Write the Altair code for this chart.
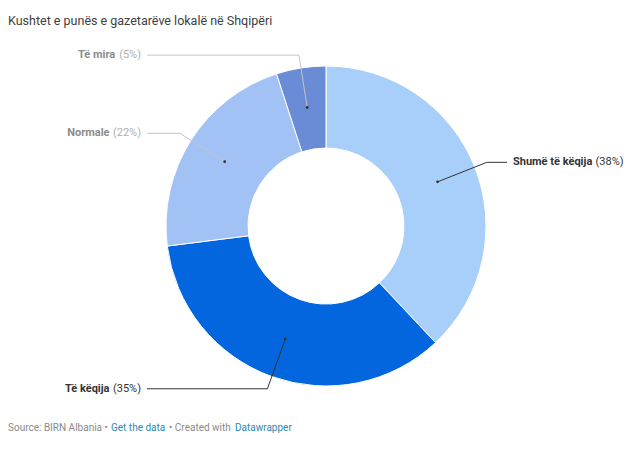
import math
import altair as alt
import pandas as pd

# ---- data ----
categories = ["Shumë të këqija", "Të këqija", "Normale", "Të mira"]
values = [38, 35, 22, 5]
colors = ["#a8cffa", "#0466df", "#a2c2f6", "#6a8bd5"]
emphasis = [True, True, False, False]

title_text = "Kushtet e punës e gazetarëve lokalë në Shqipëri"
footer_parts = ["Source: BIRN Albania •", "Get the data", "• Created with", "Datawrapper"]
footer_colors = ["#8a8a8a", "#2b8ab3", "#8a8a8a", "#2b8ab3"]

# ---- layout (page pixel space) ----
W, H = 624, 446
CX, CY = 326, 226          # donut centre in page coords
R_OUT, R_IN = 160, 78
R_DOT, R_ELBOW = 120, 173
FS_LABEL = 11

xs = alt.Scale(domain=[8, 8 + W], range=[0, W])
ys = alt.Scale(domain=[8, 8 + H], range=[0, H])

total = sum(values)
slices = pd.DataFrame({"cat": categories, "value": values, "idx": range(len(values))})

line_rows, dot_rows, name_rows, pct_rows = [], [], [], []
cum = 0
for i, (c, v, emph) in enumerate(zip(categories, values, emphasis)):
    mid = (cum + v / 2) / total * 2 * math.pi
    cum += v
    s, co = math.sin(mid), math.cos(mid)
    dx, dy = CX + R_DOT * s, CY - R_DOT * co
    ex, ey = CX + R_ELBOW * s, CY - R_ELBOW * co
    right = s > 0
    xend = CX + 181 if right else CX - 179
    lc = "#333333" if emph else "#c4c4c4"
    tc = "#333333" if emph else "#8c8c8c"
    pc = "#333333" if emph else "#b0b0b0"
    for k, (px, py) in enumerate([(dx, dy), (ex, ey), (xend, ey)]):
        line_rows.append({"cat": c, "k": k, "x": px, "y": py, "lc": lc})
    dot_rows.append({"x": dx, "y": dy})
    pct = f"({v}%)"
    if right:
        tx = xend + 6
        name_rows.append({"x": tx, "y": ey, "t": c, "col": tc, "align": "left"})
        pct_rows.append({"x": tx + len(c) * 5.3 + 3, "y": ey, "t": pct, "col": pc, "align": "left"})
    else:
        tx = xend - 6
        pct_rows.append({"x": tx, "y": ey, "t": pct, "col": pc, "align": "right"})
        name_rows.append({"x": tx - len(pct) * 5.7 - 3, "y": ey, "t": c, "col": tc, "align": "right"})

lines = pd.DataFrame(line_rows)
dots = pd.DataFrame(dot_rows)
names = pd.DataFrame(name_rows)
pcts = pd.DataFrame(pct_rows)

arc = alt.Chart(slices).mark_arc(
    radius=R_OUT, radius2=R_IN, stroke="white", strokeWidth=1
).encode(
    theta=alt.Theta("value:Q", stack=True),
    order=alt.Order("idx:Q"),
    color=alt.Color("cat:N", scale=alt.Scale(domain=categories, range=colors), legend=None),
    x=alt.value(CX - 8),
    y=alt.value(CY - 8),
)

leader = alt.Chart(lines).mark_line(strokeWidth=1).encode(
    x=alt.X("x:Q", scale=xs, axis=None),
    y=alt.Y("y:Q", scale=ys, axis=None),
    detail="cat:N",
    order="k:Q",
    color=alt.Color("lc:N", scale=None),
)

dot = alt.Chart(dots).mark_circle(size=8, color="#333333", opacity=1).encode(
    x=alt.X("x:Q", scale=xs, axis=None),
    y=alt.Y("y:Q", scale=ys, axis=None),
)

def text_layer(df, weight):
    layers = []
    for al in ["left", "right"]:
        sub = df[df["align"] == al]
        if len(sub) == 0:
            continue
        layers.append(
            alt.Chart(sub).mark_text(
                align=al, baseline="middle", font="Roboto", fontSize=FS_LABEL, fontWeight=weight
            ).encode(
                x=alt.X("x:Q", scale=xs, axis=None),
                y=alt.Y("y:Q", scale=ys, axis=None),
                text="t:N",
                color=alt.Color("col:N", scale=None),
            )
        )
    return layers

title_df = pd.DataFrame({"x": [8], "y": [21], "t": [title_text]})
title = alt.Chart(title_df).mark_text(
    align="left", baseline="middle", font="Roboto", fontSize=12.5, color="#404040"
).encode(
    x=alt.X("x:Q", scale=xs, axis=None),
    y=alt.Y("y:Q", scale=ys, axis=None),
    text="t:N",
)

foot_x = [8, 111, 169, 235]
footer_df = pd.DataFrame({"x": foot_x, "y": [428] * 4, "t": footer_parts, "col": footer_colors})
footer = alt.Chart(footer_df).mark_text(
    align="left", baseline="middle", font="Roboto", fontSize=10
).encode(
    x=alt.X("x:Q", scale=xs, axis=None),
    y=alt.Y("y:Q", scale=ys, axis=None),
    text="t:N",
    color=alt.Color("col:N", scale=None),
)

chart = alt.layer(
    arc, leader, dot, *text_layer(names, "bold"), *text_layer(pcts, "normal"), title, footer
).properties(
    width=W, height=H, padding=0, autosize=alt.AutoSizeParams(type="none")
).configure(background="white").configure_view(stroke=None, strokeWidth=0)

chart.save("out.html", embed_options={"renderer": "svg", "actions": False})
